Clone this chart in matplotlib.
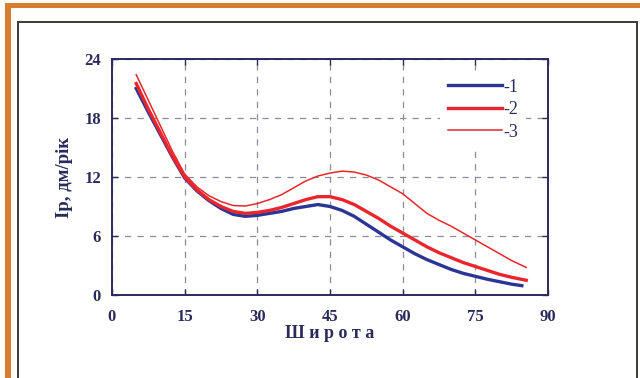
import matplotlib
matplotlib.use("Agg")
from matplotlib import pyplot as plt
from matplotlib.patches import Rectangle

# latitude (degrees) and values for the three curves
lat_1 = [5, 7.5, 10, 12.5, 15, 17.5, 20, 22.5, 25, 27.5, 30, 32.5, 35, 37.5, 40,
         42.5, 45, 47.5, 50, 52.5, 55, 57.5, 60, 62.5, 65, 67.5, 70, 72.5, 75,
         77.5, 80, 82.5, 84.6]
ip_1 = [21.0, 18.6, 16.3, 14.0, 11.9, 10.6, 9.6, 8.8, 8.2, 8.0, 8.1, 8.3, 8.5,
        8.8, 9.0, 9.2, 9.0, 8.6, 8.0, 7.2, 6.4, 5.6, 4.9, 4.2, 3.6, 3.1, 2.6,
        2.2, 1.9, 1.6, 1.35, 1.1, 0.95]

lat_2 = [5, 7.5, 10, 12.5, 15, 17.5, 20, 22.5, 25, 27.5, 30, 32.5, 35, 37.5, 40,
         42.5, 45, 47.5, 50, 52.5, 55, 57.5, 60, 62.5, 65, 67.5, 70, 72.5, 75,
         77.5, 80, 82.5, 85.5]
ip_2 = [21.5, 18.9, 16.5, 14.1, 12.0, 10.7, 9.7, 9.0, 8.5, 8.3, 8.4, 8.6, 8.9,
        9.3, 9.7, 10.0, 10.0, 9.7, 9.2, 8.5, 7.8, 7.0, 6.3, 5.6, 4.9, 4.3, 3.8,
        3.3, 2.9, 2.5, 2.1, 1.8, 1.5]

lat_3 = lat_2
ip_3 = [22.4, 19.8, 17.2, 14.6, 12.3, 11.0, 10.1, 9.5, 9.1, 9.05, 9.3, 9.7,
        10.2, 10.9, 11.6, 12.1, 12.4, 12.6, 12.5, 12.2, 11.7, 11.0, 10.3, 9.3,
        8.3, 7.6, 7.0, 6.3, 5.6, 4.9, 4.2, 3.5, 2.8]

x_ticks = [0, 15, 30, 45, 60, 75, 90]
y_ticks = [0, 6, 12, 18, 24]
labels = ["-1", "-2", "-3"]

W, H = 640, 378
navy = "#2a2b5c"
blue = "#2b3596"
red = "#e8262c"
orange = "#d77d2f"

fig = plt.figure(figsize=(W / 100, H / 100), dpi=100)
fig.patch.set_facecolor("white")

# decorative frame around the chart
fig.add_artist(Rectangle((5 / W, 0), (W - 5) / W, 1 - 3 / H, transform=fig.transFigure,
                         facecolor="#fffefa", edgecolor="none", zorder=0))
fig.add_artist(Rectangle((5 / W, 1 - 8 / H), (W - 5) / W, 5 / H, transform=fig.transFigure,
                         facecolor=orange, edgecolor="none", zorder=1))
fig.add_artist(Rectangle((5 / W, 0), 6 / W, 1 - 3 / H, transform=fig.transFigure,
                         facecolor=orange, edgecolor="none", zorder=1))
fig.add_artist(Rectangle((17.5 / W, -0.05), (636.5 - 17.5) / W, 1.05 - 22 / H,
                         transform=fig.transFigure, facecolor="white",
                         edgecolor="#3a3a3a", linewidth=1.4, zorder=1))

ax = fig.add_axes([112 / W, 1 - 295 / H, (548 - 112) / W, (295 - 59) / H])
ax.set_zorder(2)

ax.plot(lat_1, ip_1, color=blue, linewidth=2.4, label=labels[0])
ax.plot(lat_2, ip_2, color=red, linewidth=2.4, label=labels[1])
ax.plot(lat_3, ip_3, color=red, linewidth=1.1, label=labels[2])

ax.set_xlim(0, 90)
ax.set_ylim(0, 24)
ax.set_xticks(x_ticks)
ax.set_yticks(y_ticks)
ax.grid(True, color="#8a8c9c", linestyle=(0, (5, 5)), linewidth=0.9)

for spine in ax.spines.values():
    spine.set_color(navy)
    spine.set_linewidth(1.4)

font = {"family": "Liberation Serif", "weight": "bold", "color": navy}
ax.tick_params(direction="in", length=4, width=1, color=navy,
               top=True, right=True, labelsize=12, labelcolor=navy)
ax.tick_params(axis="x", pad=10)
ax.tick_params(axis="y", pad=8)
for lab in ax.get_xticklabels() + ax.get_yticklabels():
    lab.set_fontfamily("Liberation Serif")
    lab.set_fontweight("bold")

ax.set_xlabel("Ш и р о т а", fontsize=13, labelpad=0, **font)
ax.set_ylabel("Ip, дм/рік", fontsize=13.5, labelpad=8, **font)

leg = ax.legend(loc="upper right", bbox_to_anchor=(0.97, 0.985), frameon=True,
                handlelength=3.0, handletextpad=0.1, labelspacing=0.3,
                prop={"family": "Liberation Serif", "size": 13})
leg.get_frame().set_edgecolor("none")
leg.get_frame().set_facecolor("white")
leg.get_frame().set_alpha(1)
for t in leg.get_texts():
    t.set_color(navy)

fig.savefig("out.png", dpi=100)
